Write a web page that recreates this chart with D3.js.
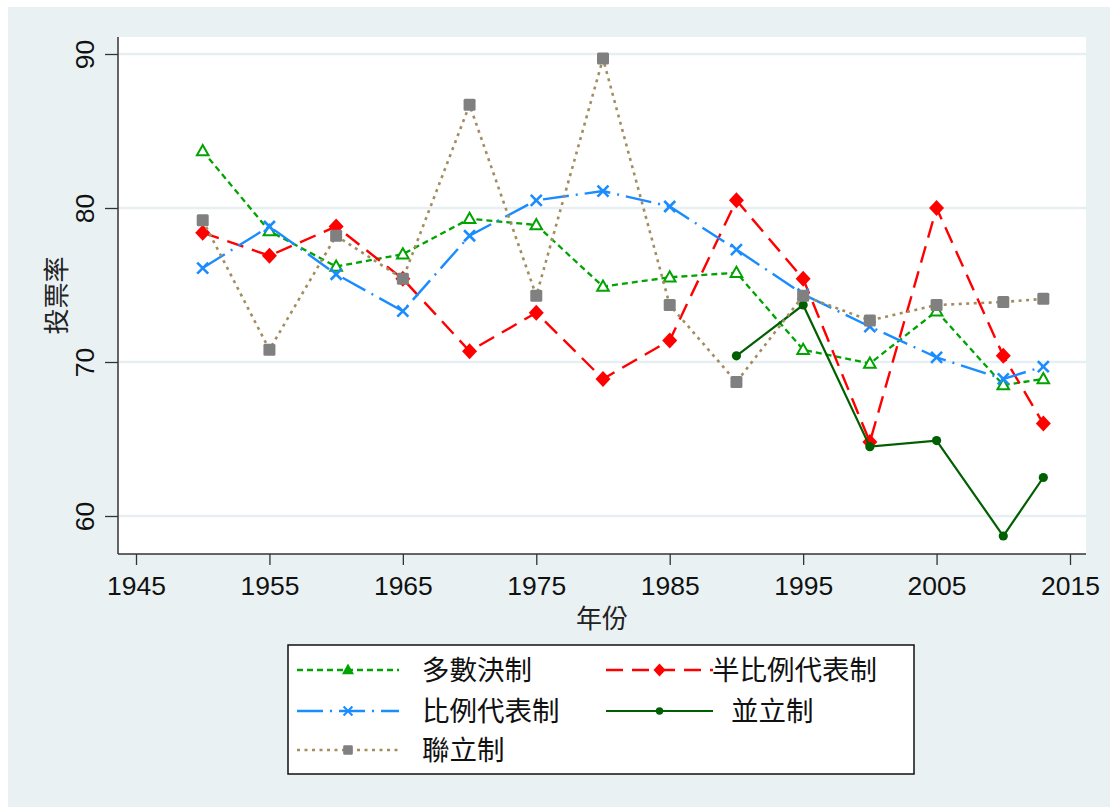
<!DOCTYPE html>
<html><head><meta charset="utf-8">
<script src="https://cdn.jsdelivr.net/npm/d3@7"></script>
<style>
html,body{margin:0;padding:0;background:#fff;}
svg{display:block;}
</style></head>
<body>
<svg id="chart" width="1110" height="807"></svg>
<script>
// ---- data ----
const years = [1950,1955,1960,1965,1970,1975,1980,1985,1990,1995,2000,2005,2010,2013];
const majoritarian = [83.7,78.5,76.2,77.0,79.3,78.9,74.9,75.5,75.8,70.8,69.9,73.3,68.5,68.9]; // 多數決制
const semiPR       = [78.4,76.9,78.8,75.4,70.7,73.2,68.9,71.4,80.5,75.4,64.8,80.0,70.4,66.0]; // 半比例代表制
const proportional = [76.1,78.8,75.7,73.3,78.2,80.5,81.1,80.1,77.3,74.4,72.3,70.3,68.9,69.7]; // 比例代表制
const parallelYears = [1990,1995,2000,2005,2010,2013];
const parallel     = [70.4,73.7,64.5,64.9,58.7,62.5];                                       // 並立制
const mixedMember  = [79.2,70.8,78.2,75.4,86.7,74.3,89.7,73.7,68.7,74.3,72.7,73.7,73.9,74.1]; // 聯立制
const seriesNames = ["多數決制","半比例代表制","比例代表制","並立制","聯立制"];
const xTicks = [1945,1955,1965,1975,1985,1995,2005,2015];
const yTicks = [60,70,80,90];
const xTitle = "年份";
const yTitle = "投票率";

// ---- styles ----
const styles = [
  {color:"#00A300", dash:"6,4",        width:2.3, marker:"triangle"},
  {color:"#FF0000", dash:"17,9",       width:2.4, marker:"diamond"},
  {color:"#1A8CFF", dash:"26,7,2,7",   width:2.4, marker:"x"},
  {color:"#005F00", dash:null,         width:2.2, marker:"circle"},
  {color:"#A38D5E", dash:"3,4.5",      width:2.6, marker:"square"}
];
const series = [
  {name:seriesNames[0], xs:years, ys:majoritarian, st:styles[0]},
  {name:seriesNames[1], xs:years, ys:semiPR, st:styles[1]},
  {name:seriesNames[2], xs:years, ys:proportional, st:styles[2]},
  {name:seriesNames[3], xs:parallelYears, ys:parallel, st:styles[3]},
  {name:seriesNames[4], xs:years, ys:mixedMember, st:styles[4]}
];

const svg = d3.select("#chart");
const bg = "#E9F1F3";
svg.append("rect").attr("x",8).attr("y",7).attr("width",1102).attr("height",800).attr("fill",bg);
const P = {l:118, t:37, r:1086, b:554};
svg.append("rect").attr("x",P.l).attr("y",P.t).attr("width",P.r-P.l).attr("height",P.b-P.t).attr("fill","#fff");

const x = d3.scaleLinear().domain([1945,2015]).range([136,1070]);
const y = d3.scaleLinear().domain([60,90]).range([516,54]);

svg.append("g").selectAll("line").data(yTicks).join("line")
  .attr("x1",P.l).attr("x2",P.r).attr("y1",d=>y(d)).attr("y2",d=>y(d))
  .attr("stroke","#E6EFF1").attr("stroke-width",2.5);

const fontNum = "'Liberation Sans', Arial, sans-serif";
const fontCJK = "'Noto Sans CJK TC','Noto Sans CJK SC',sans-serif";
const yAx = svg.append("g").attr("transform",`translate(${P.l},0)`)
  .call(d3.axisLeft(y).tickValues(yTicks).tickSize(13).tickFormat(d3.format("d")));
yAx.select(".domain").remove();
yAx.selectAll(".tick line").attr("stroke","#333").attr("stroke-width",1.3);
yAx.selectAll(".tick text").attr("x",null).attr("dy",null).attr("y",null)
  .attr("transform","translate(-24,0) rotate(-90)").attr("text-anchor","middle")
  .attr("font-family",fontNum).attr("font-size",26.5).attr("fill","#111");
svg.append("line").attr("x1",P.l).attr("x2",P.l).attr("y1",P.t).attr("y2",P.b).attr("stroke","#333").attr("stroke-width",1.5);

const xAx = svg.append("g").attr("transform",`translate(0,${P.b})`)
  .call(d3.axisBottom(x).tickValues(xTicks).tickSize(11).tickFormat(d3.format("d")));
xAx.select(".domain").remove();
xAx.selectAll(".tick line").attr("stroke","#333").attr("stroke-width",1.3);
xAx.selectAll(".tick text").attr("y",41).attr("dy",null)
  .attr("font-family",fontNum).attr("font-size",26.5).attr("fill","#111");
svg.append("line").attr("x1",P.l).attr("x2",P.r).attr("y1",P.b).attr("y2",P.b).attr("stroke","#333").attr("stroke-width",1.5);

svg.append("text").attr("x",(P.l+P.r)/2).attr("y",628).attr("text-anchor","middle")
  .attr("font-family",fontCJK).attr("font-size",26).attr("fill","#222").text(xTitle);
svg.append("text").attr("transform",`translate(66,${(P.t+P.b)/2}) rotate(-90)`).attr("text-anchor","middle")
  .attr("font-family",fontCJK).attr("font-size",26).attr("fill","#222").text(yTitle);

function drawMarker(g, type, color, s){
  s = s || 1;
  if(type==="triangle"){
    g.append("path").attr("d",`M0,${-6*s}L${5.8*s},${4.2*s}L${-5.8*s},${4.2*s}Z`)
      .attr("fill", s<1 ? color : "#fff").attr("stroke",color).attr("stroke-width",2*s).attr("stroke-linejoin","miter");
  } else if(type==="diamond"){
    g.append("path").attr("d",`M0,${-8*s}L${7.5*s},0L0,${8*s}L${-7.5*s},0Z`).attr("fill",color);
  } else if(type==="x"){
    const a=5.5*s;
    g.append("path").attr("d",`M${-a},${-a}L${a},${a}M${-a},${a}L${a},${-a}`)
      .attr("stroke",color).attr("stroke-width",2.6*s).attr("fill","none");
  } else if(type==="circle"){
    g.append("circle").attr("r",4.6*s).attr("fill",color);
  } else if(type==="square"){
    g.append("rect").attr("x",-6*s).attr("y",-6*s).attr("width",12*s).attr("height",12*s)
      .attr("rx",1.5*s).attr("fill","#808080");
  }
}

const line = d3.line().x(d=>x(d[0])).y(d=>y(d[1]));
series.forEach(s=>{
  const pts = s.xs.map((v,i)=>[v,s.ys[i]]);
  const g = svg.append("g");
  g.append("path").attr("d",line(pts)).attr("fill","none")
    .attr("stroke",s.st.color).attr("stroke-width",s.st.width)
    .attr("stroke-dasharray",s.st.dash).attr("stroke-linecap","butt");
  pts.forEach(p=>{
    const mg = g.append("g").attr("transform",`translate(${x(p[0])},${y(p[1])})`);
    drawMarker(mg, s.st.marker, s.st.color, 1);
  });
});

const L = {x:288, y:645, w:626, h:129};
svg.append("rect").attr("x",L.x).attr("y",L.y).attr("width",L.w).attr("height",L.h)
  .attr("fill","#fff").attr("stroke","#111").attr("stroke-width",1.5);
const legendPos = [
  {kx1:297, kx2:399, tx:422, ry:670},
  {kx1:606, kx2:713, tx:712, ry:670},
  {kx1:297, kx2:399, tx:422, ry:711},
  {kx1:606, kx2:713, tx:731, ry:711},
  {kx1:297, kx2:399, tx:422, ry:750}
];
series.forEach((s,i)=>{
  const lp = legendPos[i];
  const g = svg.append("g");
  g.append("line").attr("x1",lp.kx1).attr("x2",lp.kx2).attr("y1",lp.ry).attr("y2",lp.ry)
    .attr("stroke",s.st.color).attr("stroke-width",s.st.width).attr("stroke-dasharray",s.st.dash);
  const mg = g.append("g").attr("transform",`translate(${(lp.kx1+lp.kx2)/2},${lp.ry})`);
  drawMarker(mg, s.st.marker, s.st.color, 0.8);
  g.append("text").attr("x",lp.tx).attr("y",lp.ry+10).attr("font-family",fontCJK)
    .attr("font-size",27.5).attr("fill","#111").text(s.name);
});
</script>
</body></html>
